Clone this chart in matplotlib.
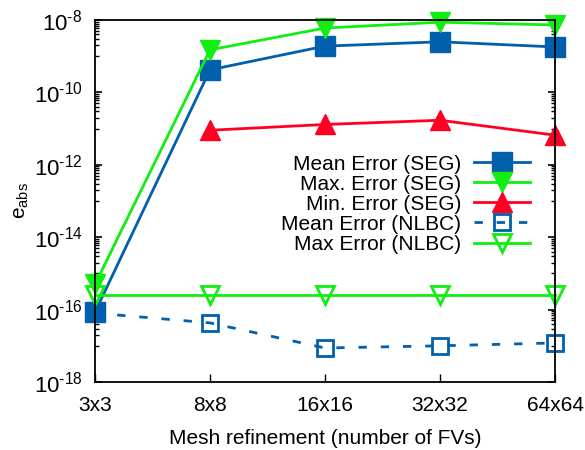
import numpy as np
import matplotlib
matplotlib.use("Agg")
import matplotlib.pyplot as plt
from matplotlib.ticker import FixedLocator, NullFormatter

# ==================================
# Data
# ==================================
mesh_labels = ["3x3", "8x8", "16x16", "32x32", "64x64"]

mean_seg = [8.5e-17, 4.2e-10, 1.9e-9, 2.5e-9, 1.8e-9]
max_seg = [5.0e-16, 1.5e-9, 6.0e-9, 8.7e-9, 7.3e-9]
min_seg = [np.nan, 9.0e-12, 1.3e-11, 1.7e-11, 6.6e-12]
mean_nlbc = [8.0e-17, 4.3e-17, 8.7e-18, 1.0e-17, 1.2e-17]
max_nlbc = [2.5e-16, 2.5e-16, 2.5e-16, 2.5e-16, 2.5e-16]

major_exp = [-8, -10, -12, -14, -16, -18]

# ==================================
# Style
# ==================================
plt.rcParams["font.family"] = ["Liberation Sans", "DejaVu Sans"]
plt.rcParams["font.size"] = 15
plt.rcParams["mathtext.fontset"] = "custom"
plt.rcParams["mathtext.rm"] = "Liberation Sans"
plt.rcParams["mathtext.it"] = "Liberation Sans"
plt.rcParams["axes.linewidth"] = 1.3

blue = "#0060ad"
green = "#11ee11"
red = "#ff0022"

fig = plt.figure(figsize=(5.85, 4.5), dpi=100)
ax = fig.add_axes([95 / 585, 1 - 382 / 450, 460 / 585, 362 / 450])

x = np.arange(len(mesh_labels))
lw = 2.0

ax.plot(x, mean_seg, color=blue, lw=lw, marker="s", ms=14, mec=blue, mfc=blue,
        clip_on=False, label="Mean Error (SEG)")
ax.plot(x, max_seg, color=green, lw=lw, marker="v", ms=15, mec=green, mfc=green,
        clip_on=False, label="Max. Error (SEG)")
ax.plot(x, min_seg, color=red, lw=lw, marker="^", ms=15, mec=red, mfc=red,
        clip_on=False, label="Min. Error (SEG)")
ax.plot(x, mean_nlbc, color=blue, lw=lw, ls=(0, (3, 5)), marker="s", ms=12, mec=blue,
        mfc="none", mew=2, clip_on=False, label="Mean Error (NLBC)")
ax.plot(x, max_nlbc, color=green, lw=lw, marker="v", ms=13, mec=green, mfc="none",
        mew=2, clip_on=False, label="Max Error (NLBC)")

ax.set_yscale("log")
ax.set_ylim(1e-18, 1e-8)
ax.set_xlim(0, len(mesh_labels) - 1)

ax.yaxis.set_major_locator(FixedLocator([10.0 ** e for e in major_exp]))
ax.set_yticklabels([r"$10^{\text{%d}}$" % e for e in major_exp])
minor = [k * 10.0 ** e for e in range(-17, -8, 2) for k in range(1, 10)]
ax.yaxis.set_minor_locator(FixedLocator(minor))
ax.yaxis.set_minor_formatter(NullFormatter())

ax.set_xticks(x)
ax.set_xticklabels(mesh_labels)

ax.tick_params(axis="y", which="major", direction="in", length=5, width=1.2,
               left=True, right=True, pad=9, labelsize=16)
ax.tick_params(axis="y", which="minor", direction="in", length=3, width=1.0,
               left=True, right=True)
ax.tick_params(axis="x", which="major", direction="in", length=6, width=1.0,
               top=False, pad=10)

ax.set_xlabel("Mesh refinement (number of FVs)", labelpad=10)
ax.set_ylabel(r"e$_{\rm abs}$", labelpad=2)

leg = ax.legend(loc="upper right", bbox_to_anchor=(0.946, 0.628), frameon=False,
                markerfirst=False, handlelength=2.7, handletextpad=0.6,
                labelspacing=0.05, borderpad=0, borderaxespad=0)

plt.savefig("out.png", dpi=100)
